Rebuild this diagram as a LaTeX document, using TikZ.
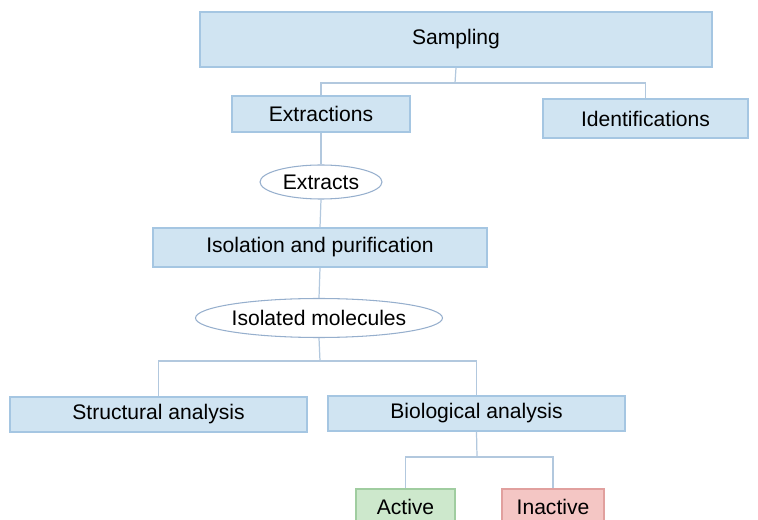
\documentclass[tikz,border=0pt]{standalone}
\usepackage{fontspec}
\setmainfont{Liberation Sans}
\usetikzlibrary{shapes.geometric}
\definecolor{boxblue}{RGB}{208,228,242}
\definecolor{edgeblue}{RGB}{165,198,226}
\definecolor{lineblue}{RGB}{178,200,222}
\definecolor{ovalgray}{RGB}{150,175,205}
\definecolor{boxgreen}{RGB}{205,232,204}
\definecolor{edgegreen}{RGB}{160,205,160}
\definecolor{boxred}{RGB}{244,198,196}
\definecolor{edgered}{RGB}{225,160,158}
\begin{document}
\begin{tikzpicture}[x=0.02cm, y=-0.02cm,
    every node/.style={font=\fontsize{12}{14}\selectfont, inner sep=0pt},
    stage/.style={rectangle, draw=edgeblue, fill=boxblue, line width=0.8pt},
    product/.style={ellipse, draw=ovalgray, fill=white, line width=0.6pt},
    result/.style={rectangle, line width=0.8pt},
    link/.style={draw=lineblue, line width=0.7pt}]
  \useasboundingbox (0,0) rectangle (758,520);
  % top level
  \node[stage, minimum width=10.24cm, minimum height=1.1cm] (samp) at (456,39.5) {Sampling};
  \node[stage, minimum width=3.56cm, minimum height=0.72cm] (extr) at (321,114) {Extractions};
  \node[stage, minimum width=4.1cm, minimum height=0.78cm] (ident) at (645.5,118.5) {Identifications};
  % extraction chain
  \node[product, minimum width=2.44cm, minimum height=0.68cm] (extracts) at (321,182) {Extracts};
  \node[stage, minimum width=6.68cm, minimum height=0.78cm] (isol) at (320,247.5) {Isolation and purification};
  \node[product, minimum width=4.92cm, minimum height=0.78cm] (molec) at (319,318) {Isolated molecules};
  % analyses
  \node[stage, minimum width=5.94cm, minimum height=0.7cm] (struct) at (158.5,414.5) {Structural analysis};
  \node[stage, minimum width=5.94cm, minimum height=0.7cm] (bio) at (476.5,413.5) {Biological analysis};
  \node[result, draw=edgegreen, fill=boxgreen, minimum width=1.98cm, minimum height=0.72cm] (act) at (405.5,507) {Active};
  \node[result, draw=edgered, fill=boxred, minimum width=2.04cm, minimum height=0.72cm] (inact) at (553,507) {Inactive};
  % connectors
  \coordinate (splitA) at (455,83);
  \coordinate (splitB) at (320,361);
  \coordinate (splitC) at (477,457);
  \draw[link] (samp.south) -- (splitA);
  \draw[link] (extr.north) |- (splitA) -| (ident.north);
  \draw[link] (extr.south) -- (extracts.north);
  \draw[link] (extracts.south) -- (isol.north);
  \draw[link] (isol.south) -- (molec.north);
  \draw[link] (molec.south) -- (splitB);
  \draw[link] (struct.north) |- (splitB) -| (bio.north);
  \draw[link] (bio.south) -- (splitC);
  \draw[link] (act.north) |- (splitC) -| (inact.north);
\end{tikzpicture}
\end{document}
